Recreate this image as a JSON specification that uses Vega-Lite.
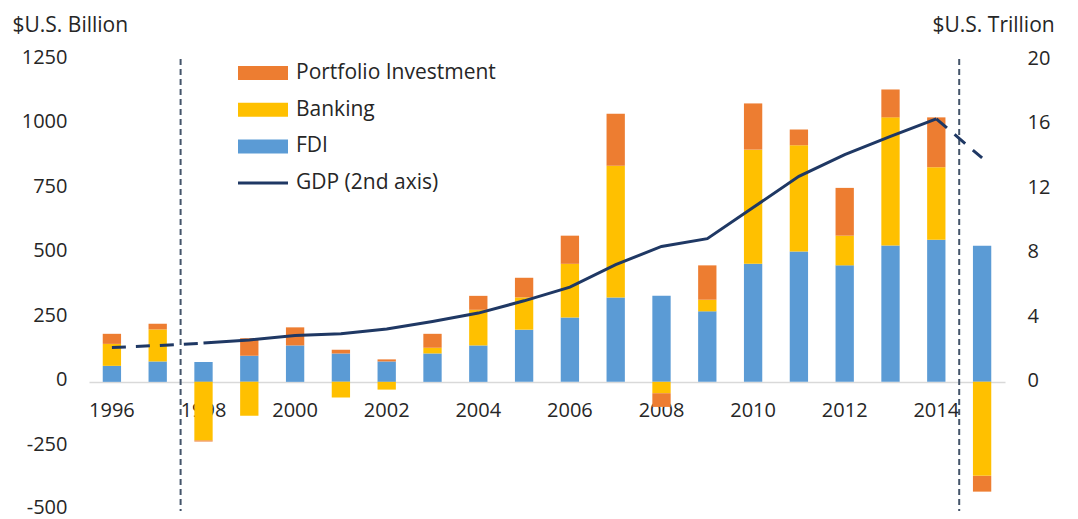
{
  "$schema": "https://vega.github.io/schema/vega-lite/v6.json",
  "width": 916,
  "height": 452,
  "autosize": {"type": "none"},
  "padding": {"left": 89, "top": 59, "right": 73, "bottom": 8},
  "background": "white",
  "config": {
    "view": {"stroke": null},
    "font": "Open Sans",
    "axis": {"labelFont": "Open Sans", "labelFontSize": 20, "labelColor": "#262626", "titleFont": "Open Sans", "titleFontSize": 21, "titleColor": "#262626", "titleFontWeight": "normal", "grid": false, "ticks": false, "domain": false}
  },
  "datasets": {
    "flows": [
      {"year": 1996, "type": "FDI", "ord": 1, "value": 62},
      {"year": 1996, "type": "Banking", "ord": 2, "value": 85},
      {"year": 1996, "type": "Portfolio Investment", "ord": 3, "value": 39},
      {"year": 1997, "type": "FDI", "ord": 1, "value": 79},
      {"year": 1997, "type": "Banking", "ord": 2, "value": 124},
      {"year": 1997, "type": "Portfolio Investment", "ord": 3, "value": 22},
      {"year": 1998, "type": "FDI", "ord": 1, "value": 77},
      {"year": 1998, "type": "Banking", "ord": 2, "value": -227},
      {"year": 1998, "type": "Portfolio Investment", "ord": 3, "value": -4},
      {"year": 1999, "type": "FDI", "ord": 1, "value": 101},
      {"year": 1999, "type": "Banking", "ord": 2, "value": -131},
      {"year": 1999, "type": "Portfolio Investment", "ord": 3, "value": 68},
      {"year": 2000, "type": "FDI", "ord": 1, "value": 141},
      {"year": 2000, "type": "Portfolio Investment", "ord": 3, "value": 70},
      {"year": 2001, "type": "FDI", "ord": 1, "value": 110},
      {"year": 2001, "type": "Banking", "ord": 2, "value": -61},
      {"year": 2001, "type": "Portfolio Investment", "ord": 3, "value": 14},
      {"year": 2002, "type": "FDI", "ord": 1, "value": 79},
      {"year": 2002, "type": "Banking", "ord": 2, "value": -30},
      {"year": 2002, "type": "Portfolio Investment", "ord": 3, "value": 8},
      {"year": 2003, "type": "FDI", "ord": 1, "value": 110},
      {"year": 2003, "type": "Banking", "ord": 2, "value": 22},
      {"year": 2003, "type": "Portfolio Investment", "ord": 3, "value": 54},
      {"year": 2004, "type": "FDI", "ord": 1, "value": 141},
      {"year": 2004, "type": "Banking", "ord": 2, "value": 138},
      {"year": 2004, "type": "Portfolio Investment", "ord": 3, "value": 54},
      {"year": 2005, "type": "FDI", "ord": 1, "value": 202},
      {"year": 2005, "type": "Banking", "ord": 2, "value": 125},
      {"year": 2005, "type": "Portfolio Investment", "ord": 3, "value": 76},
      {"year": 2006, "type": "FDI", "ord": 1, "value": 249},
      {"year": 2006, "type": "Banking", "ord": 2, "value": 208},
      {"year": 2006, "type": "Portfolio Investment", "ord": 3, "value": 109},
      {"year": 2007, "type": "FDI", "ord": 1, "value": 327},
      {"year": 2007, "type": "Banking", "ord": 2, "value": 510},
      {"year": 2007, "type": "Portfolio Investment", "ord": 3, "value": 201},
      {"year": 2008, "type": "FDI", "ord": 1, "value": 333},
      {"year": 2008, "type": "Banking", "ord": 2, "value": -44},
      {"year": 2008, "type": "Portfolio Investment", "ord": 3, "value": -53},
      {"year": 2009, "type": "FDI", "ord": 1, "value": 273},
      {"year": 2009, "type": "Banking", "ord": 2, "value": 45},
      {"year": 2009, "type": "Portfolio Investment", "ord": 3, "value": 133},
      {"year": 2010, "type": "FDI", "ord": 1, "value": 457},
      {"year": 2010, "type": "Banking", "ord": 2, "value": 442},
      {"year": 2010, "type": "Portfolio Investment", "ord": 3, "value": 179},
      {"year": 2011, "type": "FDI", "ord": 1, "value": 505},
      {"year": 2011, "type": "Banking", "ord": 2, "value": 411},
      {"year": 2011, "type": "Portfolio Investment", "ord": 3, "value": 61},
      {"year": 2012, "type": "FDI", "ord": 1, "value": 451},
      {"year": 2012, "type": "Banking", "ord": 2, "value": 115},
      {"year": 2012, "type": "Portfolio Investment", "ord": 3, "value": 185},
      {"year": 2013, "type": "FDI", "ord": 1, "value": 528},
      {"year": 2013, "type": "Banking", "ord": 2, "value": 496},
      {"year": 2013, "type": "Portfolio Investment", "ord": 3, "value": 108},
      {"year": 2014, "type": "FDI", "ord": 1, "value": 550},
      {"year": 2014, "type": "Banking", "ord": 2, "value": 281},
      {"year": 2014, "type": "Portfolio Investment", "ord": 3, "value": 193},
      {"year": 2015, "type": "FDI", "ord": 1, "value": 527},
      {"year": 2015, "type": "Banking", "ord": 2, "value": -364},
      {"year": 2015, "type": "Portfolio Investment", "ord": 3, "value": -61}
    ],
    "gdp": [
      {"year": 1996, "gdp": 2.13, "seg": "a"},
      {"year": 1997, "gdp": 2.25, "seg": "a"},
      {"year": 1998, "gdp": 2.4, "seg": "a"},
      {"year": 1998, "gdp": 2.4, "seg": "b"},
      {"year": 1999, "gdp": 2.6, "seg": "b"},
      {"year": 2000, "gdp": 2.87, "seg": "b"},
      {"year": 2001, "gdp": 2.98, "seg": "b"},
      {"year": 2002, "gdp": 3.27, "seg": "b"},
      {"year": 2003, "gdp": 3.74, "seg": "b"},
      {"year": 2004, "gdp": 4.26, "seg": "b"},
      {"year": 2005, "gdp": 5.02, "seg": "b"},
      {"year": 2006, "gdp": 5.87, "seg": "b"},
      {"year": 2007, "gdp": 7.26, "seg": "b"},
      {"year": 2008, "gdp": 8.39, "seg": "b"},
      {"year": 2009, "gdp": 8.87, "seg": "b"},
      {"year": 2010, "gdp": 10.8, "seg": "b"},
      {"year": 2011, "gdp": 12.73, "seg": "b"},
      {"year": 2012, "gdp": 14.08, "seg": "b"},
      {"year": 2013, "gdp": 15.21, "seg": "b"},
      {"year": 2014, "gdp": 16.29, "seg": "b"},
      {"year": 2014, "gdp": 16.29, "seg": "c"},
      {"year": 2015, "gdp": 13.87, "seg": "c"}
    ],
    "dividers": [
      {"year": 1998},
      {"year": 2015}
    ]
  },
  "encoding": {
    "x": {
      "field": "year", "type": "ordinal", "title": null,
      "scale": {"type": "band", "paddingInner": 0.6, "paddingOuter": 0.3, "domain": [1996,1997,1998,1999,2000,2001,2002,2003,2004,2005,2006,2007,2008,2009,2010,2011,2012,2013,2014,2015]},
      "axis": {"orient": "bottom", "offset": -129, "values": [1996,1998,2000,2002,2004,2006,2008,2010,2012,2014], "labelAngle": 0, "labelPadding": 18, "domain": true, "domainColor": "#D9D9D9", "domainWidth": 1.5, "ticks": false}
    }
  },
  "layer": [
    {
      "layer": [
        {
          "data": {"name": "flows"},
          "mark": {"type": "bar"},
          "encoding": {
            "y": {
              "field": "value", "type": "quantitative", "stack": "zero",
              "scale": {"domain": [-500, 1250], "nice": false, "zero": false},
              "axis": {"orient": "left", "values": [-500,-250,0,250,500,750,1000,1250], "labelExpr": "'' + datum.value", "labelPadding": 22,
                "labelBaseline": {"condition": {"test": "datum.value === -500", "value": "alphabetic"}, "value": "middle"},
                "labelOffset": {"condition": {"test": "datum.value === -500", "value": 2}, "value": -2},
                "title": "$U.S. Billion", "titleAngle": 0, "titleAlign": "left", "titleBaseline": "middle", "titleX": -77, "titleY": -34}
            },
            "order": {"field": "ord", "type": "quantitative"},
            "color": {
              "field": "type", "type": "nominal",
              "scale": {"domain": ["Portfolio Investment", "Banking", "FDI", "GDP (2nd axis)"], "range": ["#ED7D31", "#FFC000", "#5B9BD5", "#1F3864"]},
              "legend": {
                "orient": "none", "legendX": 149, "legendY": 4, "title": null,
                "labelFont": "Open Sans", "labelFontSize": 21, "labelColor": "#262626", "labelLimit": 0,
                "symbolType": "M-1,-0.28H1V0.28H-1Z", "symbolSize": 2500, "symbolStrokeWidth": 0, "symbolOpacity": 1,
                "clipHeight": 20, "rowPadding": 15.7, "labelOffset": 8,
                "encode": {"symbols": {"update": {"shape": {"signal": "datum.value === 'GDP (2nd axis)' ? 'M-1,-0.06H1V0.06H-1Z' : 'M-1,-0.28H1V0.28H-1Z'"}}}}
              }
            }
          }
        },
        {
          "data": {"name": "dividers"},
          "mark": {"type": "rule", "color": "#44546A", "strokeWidth": 2, "strokeDash": [6, 4]},
          "encoding": {
            "x": {
              "field": "year", "type": "ordinal", "title": null, "bandPosition": -0.75,
              "axis": {"orient": "bottom", "offset": -129, "values": [1996,1998,2000,2002,2004,2006,2008,2010,2012,2014], "labelAngle": 0, "labelPadding": 18, "domain": true, "domainColor": "#D9D9D9", "domainWidth": 1.5, "ticks": false}
            }
          }
        }
      ]
    },
    {
      "data": {"name": "gdp"},
      "layer": [
        {
          "transform": [{"filter": "datum.seg === 'b'"}],
          "mark": {"type": "line", "color": "#1F3864", "strokeWidth": 3},
          "encoding": {
            "y": {"field": "gdp", "type": "quantitative", "scale": {"domain": [-8, 20], "nice": false, "zero": false},
              "axis": {"orient": "right", "values": [0,4,8,12,16,20], "labelPadding": 22, "labelOffset": -1, "title": "$U.S. Trillion", "titleAngle": 0, "titleAlign": "left", "titleBaseline": "middle", "titleX": -73, "titleY": -34}},
            "detail": {"field": "seg"}
          }
        },
        {
          "transform": [{"filter": "datum.seg !== 'b'"}],
          "mark": {"type": "line", "color": "#1F3864", "strokeWidth": 3, "strokeDash": [14, 10]},
          "encoding": {
            "y": {"field": "gdp", "type": "quantitative", "scale": {"domain": [-8, 20], "nice": false, "zero": false},
              "axis": {"orient": "right", "values": [0,4,8,12,16,20], "labelPadding": 22, "labelOffset": -1, "title": "$U.S. Trillion", "titleAngle": 0, "titleAlign": "left", "titleBaseline": "middle", "titleX": -73, "titleY": -34}},
            "detail": {"field": "seg"}
          }
        }
      ]
    }
  ],
  "resolve": {"scale": {"y": "independent"}}
}
